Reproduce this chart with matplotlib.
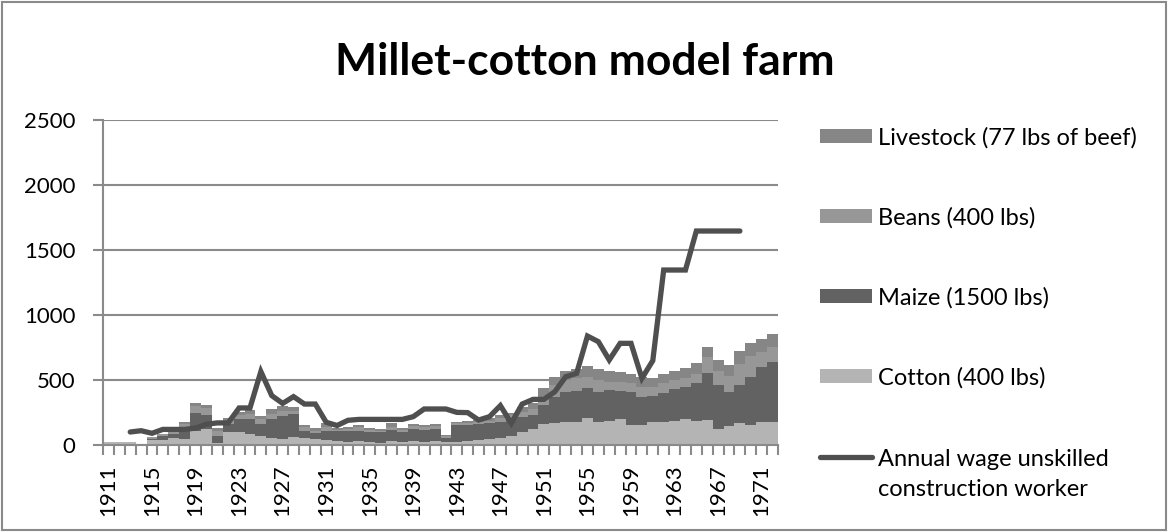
import matplotlib
matplotlib.use("Agg")
import matplotlib.pyplot as plt
from matplotlib.patches import Rectangle
from matplotlib.lines import Line2D
import numpy as np

plt.rcParams['font.family'] = ['Lato', 'DejaVu Sans']

years = list(range(1911, 1973))

cotton = [20, 26, 25, 0, 35, 36, 56, 44, 105, 125,
          18, 97, 97, 85, 72, 54, 46, 59, 56, 45,
          35, 28, 20, 33, 26, 18, 33, 25, 30, 25,
          30, 26, 26, 31, 38, 46, 56, 69, 102, 120,
          161, 166, 179, 179, 205, 179, 187, 197, 154, 154,
          179, 179, 187, 197, 187, 192, 120, 146, 172, 154,
          179, 180]
maize = [0, 0, 0, 0, 15, 33, 31, 84, 145, 105,
         51, 64, 102, 115, 90, 146, 180, 180, 54, 45,
         75, 77, 84, 77, 77, 79, 82, 75, 95, 90,
         95, 26, 128, 123, 123, 120, 123, 128, 110, 110,
         146, 205, 230, 238, 230, 231, 235, 220, 256, 217,
         197, 223, 241, 246, 287, 364, 341, 264, 289, 371,
         423, 458]
beans = [0, 0, 0, 0, 10, 13, 15, 31, 51, 55,
         38, 26, 31, 38, 38, 38, 38, 26, 26, 20,
         30, 10, 18, 26, 13, 13, 26, 15, 20, 20,
         20, 15, 13, 15, 18, 20, 26, 31, 44, 44,
         64, 90, 90, 102, 90, 89, 64, 64, 64, 72,
         67, 72, 71, 69, 71, 122, 110, 120, 161, 159,
         115, 117]
livestock = [0, 0, 0, 0, 5, 5, 5, 18, 20, 22,
             20, 18, 20, 31, 26, 38, 38, 26, 18, 18,
             26, 15, 13, 18, 13, 13, 26, 13, 20, 16,
             16, 10, 8, 13, 13, 18, 23, 20, 38, 46,
             64, 64, 72, 69, 82, 82, 85, 77, 76, 77,
             74, 71, 69, 77, 82, 77, 82, 84, 102, 102,
             102, 100]

wage_years = list(range(1913, 1970))
wage = [100, 110, 90, 120, 120, 120, 130, 160, 170, 170,
        285, 285, 565, 380, 320, 372, 315, 315, 175, 150,
        190, 197, 197, 197, 197, 197, 218, 277, 277, 277,
        251, 249, 192, 218, 303, 167, 315, 351, 351, 410,
        525, 551, 838, 795, 654, 782, 782, 513, 649, 1346,
        1346, 1346, 1646, 1646, 1646, 1646, 1646]

labels = ["Livestock (77 lbs of beef)", "Beans (400 lbs)", "Maize (1500 lbs)",
          "Cotton (400 lbs)", "Annual wage unskilled", "construction worker"]

c_cotton = "#b4b4b4"
c_maize = "#626262"
c_beans = "#979797"
c_live = "#868686"
c_line = "#4f4f4f"
c_axis = "#8a8a8a"

W, H = 1168, 532
fig = plt.figure(figsize=(W / 100, H / 100), dpi=100)
ax = fig.add_axes([103 / W, 1 - 445 / H, (778 - 103) / W, (445 - 120) / H])

x = np.array(years)
b0 = np.zeros(len(x))
ax.bar(x, cotton, width=1.0, bottom=b0, color=c_cotton, linewidth=0, zorder=2)
b1 = b0 + np.array(cotton)
ax.bar(x, maize, width=1.0, bottom=b1, color=c_maize, linewidth=0, zorder=2)
b2 = b1 + np.array(maize)
ax.bar(x, beans, width=1.0, bottom=b2, color=c_beans, linewidth=0, zorder=2)
b3 = b2 + np.array(beans)
ax.bar(x, livestock, width=1.0, bottom=b3, color=c_live, linewidth=0, zorder=2)

ax.plot(wage_years, wage, color=c_line, lw=3.8, solid_capstyle='round',
        solid_joinstyle='miter', zorder=3)

ax.set_xlim(years[0] - 0.5, years[-1] + 0.5)
ax.set_ylim(0, 2500)
ax.set_yticks(range(0, 2501, 500))
ax.yaxis.grid(True, color=c_axis, lw=1.5, zorder=0)
ax.set_axisbelow(True)

ax.set_xticks(years[::4])
ax.set_xticklabels([str(y) for y in years[::4]], rotation=90)
ax.set_xticks([y - 0.5 for y in years] + [years[-1] + 0.5], minor=True)
ax.tick_params(axis='x', which='major', length=0, pad=14, labelsize=16)
ax.tick_params(axis='x', which='minor', length=7, width=1.5, color=c_axis)
ax.tick_params(axis='y', which='major', length=7, width=1.5, color=c_axis,
               labelsize=16, pad=13)

for s in ['top', 'right']:
    ax.spines[s].set_visible(False)
for s in ['left', 'bottom']:
    ax.spines[s].set_color(c_axis)
    ax.spines[s].set_linewidth(1.5)

# title
fig.text(585 / W, 1 - 75 / H, "Millet-cotton model farm", ha='center', va='baseline',
         fontsize=32, fontweight='bold')

# legend drawn in figure pixel coordinates
tf = fig.transFigure
def fx(px):
    return px / W
def fy(py):
    return 1 - py / H

entries = [(c_live, 136), (c_beans, 216), (c_maize, 296), (c_cotton, 376)]
for (col, yc), lab in zip(entries, labels[:4]):
    fig.add_artist(Rectangle((fx(820), fy(yc + 7)), 52 / W, 14 / H,
                             transform=tf, color=col, lw=0))
    fig.text(fx(878), fy(yc), lab, ha='left', va='center_baseline', fontsize=17)
fig.add_artist(Line2D([fx(820), fx(872)], [fy(457), fy(457)], transform=tf,
                      color=c_line, lw=3.8, solid_capstyle='round'))
fig.text(fx(878), fy(457), labels[4], ha='left', va='center_baseline', fontsize=17)
fig.text(fx(878), fy(488), labels[5], ha='left', va='center_baseline', fontsize=17)

# chart border
fig.add_artist(Rectangle((2 / W, 2 / H), (W - 4) / W, (H - 4) / H, transform=tf,
                         fill=False, edgecolor=c_axis, lw=1.5))

fig.savefig("out.png", dpi=100)
